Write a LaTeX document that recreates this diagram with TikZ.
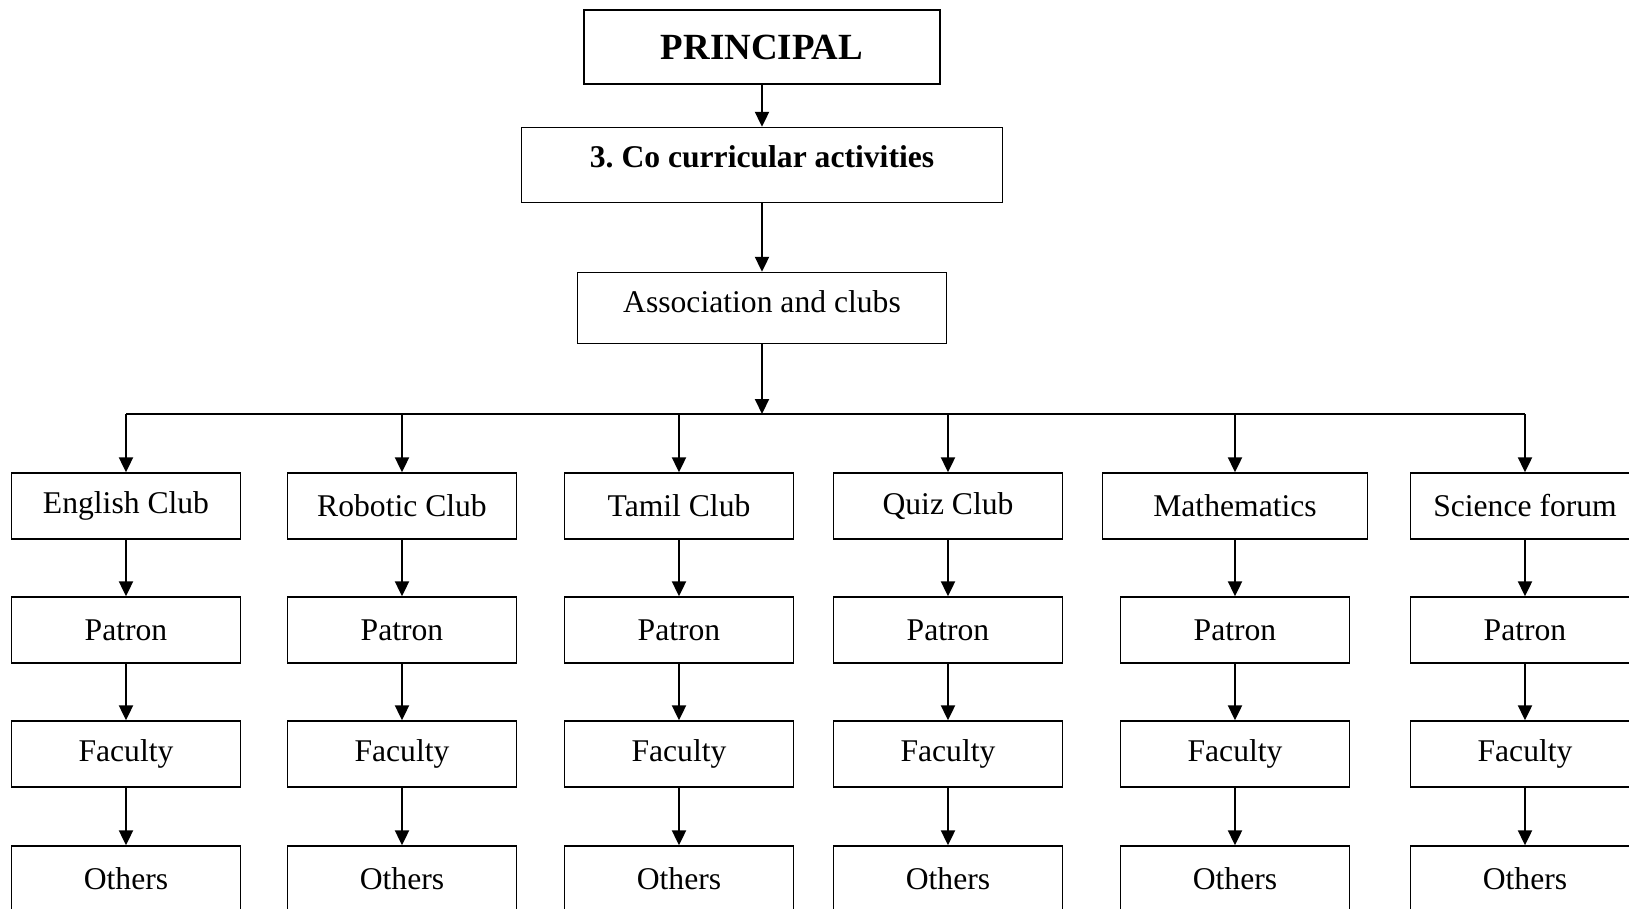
\documentclass[tikz,border=0pt]{standalone}
\usepackage{fontspec}
\setmainfont{Liberation Serif}
\usetikzlibrary{arrows.meta}

\tikzset{
  box/.style={draw, line width=0.8pt, minimum width=4.58cm, minimum height=1.32cm,
    inner sep=2pt, font=\fontsize{18}{21}\selectfont},
  link/.style={line width=1.2pt, -{Triangle[length=0.3cm, width=0.28cm]}},
}

\begin{document}
\begin{tikzpicture}[x=0.02cm, y=-0.02cm]
\useasboundingbox (0,0) rectangle (1629,909);
\clip (0,0) rectangle (1629,909);

% top of the chart
\node[box, minimum width=7.12cm, minimum height=1.48cm,
  font=\fontsize{21}{24}\bfseries] (principal) at (762,47) {PRINCIPAL};
\node[box, minimum width=9.62cm, minimum height=1.5cm, text height=13pt, text depth=10pt,
  font=\fontsize{18}{21}\bfseries] (cocurr) at (762,165) {3.\ Co curricular activities};
\node[box, minimum width=7.37cm, minimum height=1.42cm, text height=13pt, text depth=8pt]
  (assoc) at (762,308) {Association and clubs};
\coordinate (bus) at (762,414);

\draw[link] (principal) -- (cocurr);
\draw[link] (cocurr) -- (assoc);
\draw[link] (assoc) -- (bus);

% one column per club
\foreach \x/\w/\name/\club in {126/4.58/eng/English Club, 402/4.58/rob/Robotic Club,
    679/4.58/tam/Tamil Club, 948/4.58/quiz/Quiz Club,
    1235/5.3/math/Mathematics, 1525/4.58/sci/Science forum}{
  \coordinate (\name-top) at (\x,414);
  \node[box, minimum width=\w cm] (\name-club) at (\x,506) {\club};
  \node[box] (\name-patron) at (\x,630) {Patron};
  \node[box] (\name-fac) at (\x,754) {Faculty};
  \node[box] (\name-oth) at (\x,879) {Others};
  \draw[link] (\name-top) -- (\name-club);
  \draw[link] (\name-club) -- (\name-patron);
  \draw[link] (\name-patron) -- (\name-fac);
  \draw[link] (\name-fac) -- (\name-oth);
}

\draw[line width=1.2pt] (eng-top) -- (sci-top);
\end{tikzpicture}
\end{document}
